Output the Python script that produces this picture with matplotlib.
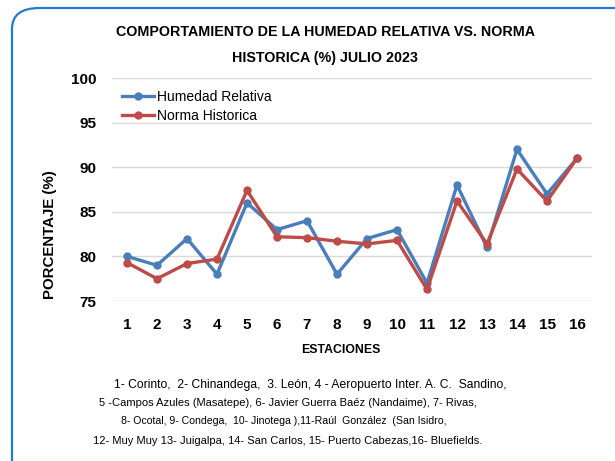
import matplotlib.pyplot as plt
from matplotlib.patches import FancyBboxPatch

plt.rcParams['font.family'] = ['Liberation Sans', 'DejaVu Sans']

estaciones = list(range(1, 17))
humedad = [80, 79, 82, 78, 86, 83, 84, 78, 82, 83, 77, 88, 81, 92, 87, 91]
norma = [79.3, 77.5, 79.2, 79.7, 87.4, 82.2, 82.1, 81.7, 81.4, 81.8, 76.3, 86.2, 81.4, 89.8, 86.2, 91]
yticks = [75, 80, 85, 90, 95, 100]

footnote = [
    "1- Corinto,  2- Chinandega,  3. León, 4 - Aeropuerto Inter. A. C.  Sandino,",
    "5 -Campos Azules (Masatepe), 6- Javier Guerra Baéz (Nandaime), 7- Rivas,",
    "8- Ocotal, 9- Condega,  10- Jinotega ),11-Raúl  González  (San Isidro,",
    "12- Muy Muy 13- Juigalpa, 14- San Carlos, 15- Puerto Cabezas,16- Bluefields.",
]
foot_x = [310, 288, 284, 288]
foot_y = [385, 403, 421, 441]
foot_size = [8.7, 8.0, 7.6, 8.0]

fig = plt.figure(figsize=(6.15, 4.61), dpi=100)
ax = fig.add_axes([112 / 615, 1 - 301 / 461, 480 / 615, 223 / 461])

# marco redondeado
frame = FancyBboxPatch((12 / 615, -0.1), 1.2, 1 - 8 / 461 + 0.1,
                       boxstyle="round,pad=0,rounding_size=0.045",
                       transform=fig.transFigure, fill=False,
                       edgecolor='#1f7bd6', linewidth=1.6, clip_on=False)
fig.patches.append(frame)

ax.plot(estaciones, humedad, color='#4a7ebb', marker='o', markersize=5,
        linewidth=2.4, label='Humedad Relativa')
ax.plot(estaciones, norma, color='#be4b48', marker='o', markersize=5,
        linewidth=2.4, label='Norma Historica')

ax.set_xlim(0.5, 16.5)
ax.set_ylim(75, 100)
ax.set_yticks(yticks)
ax.set_xticks(estaciones)
ax.grid(axis='y', color='#d9d9d9', linewidth=1)
ax.set_axisbelow(True)
for s in ax.spines.values():
    s.set_visible(False)
ax.tick_params(length=0, labelsize=11)
ax.tick_params(axis='x', pad=12)
ax.tick_params(axis='y', pad=11)
for lab in ax.get_xticklabels() + ax.get_yticklabels():
    lab.set_fontweight('bold')

ax.legend(loc='upper left', bbox_to_anchor=(0.01, 0.97), frameon=False,
          fontsize=10, handlelength=2.3, handletextpad=0.2, labelspacing=0.35,
          borderaxespad=0)

fig.text(325 / 615, 1 - 32 / 461, "COMPORTAMIENTO DE LA HUMEDAD RELATIVA VS. NORMA",
         ha='center', va='center', fontsize=10.3, fontweight='bold')
fig.text(325 / 615, 1 - 58 / 461, "HISTORICA (%) JULIO 2023",
         ha='center', va='center', fontsize=10.3, fontweight='bold')
fig.text(50 / 615, 1 - 235 / 461, "PORCENTAJE (%)", rotation=90,
         ha='center', va='center', fontsize=10.8, fontweight='bold')
fig.text(341 / 615, 1 - 350 / 461, "ESTACIONES", ha='center', va='center',
         fontsize=8.8, fontweight='bold')

for x, y, s, line in zip(foot_x, foot_y, foot_size, footnote):
    fig.text(x / 615, 1 - y / 461, line, ha='center', va='center', fontsize=s)

fig.savefig('out.png', dpi=100)
